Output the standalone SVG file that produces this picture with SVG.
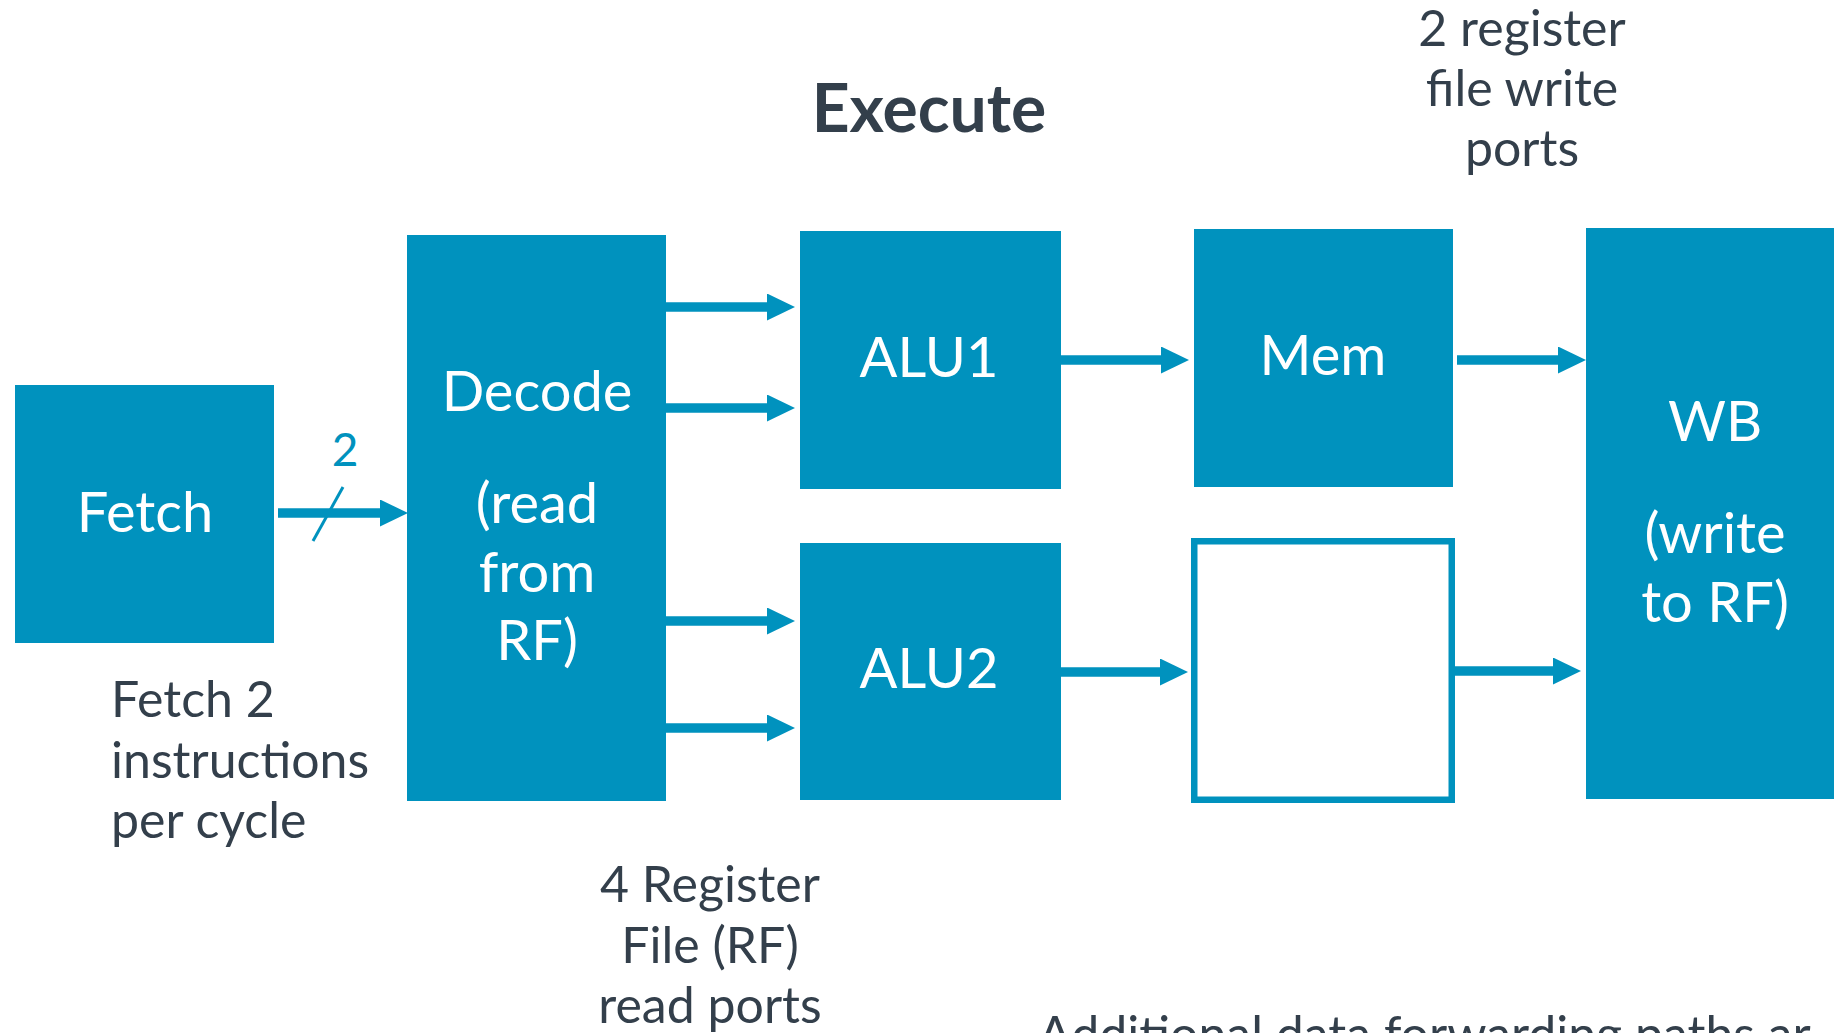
<svg xmlns="http://www.w3.org/2000/svg" width="1834" height="1033" viewBox="0 0 1834 1033">
  <defs>
    <style>
      .box { fill: #0092BE; }
      .hollow { fill: #FFFFFF; stroke: #0092BE; stroke-width: 6.5; }
      .inner { font-family: Lato, "Open Sans", "Liberation Sans", sans-serif; font-size: 56px; fill: #FFFFFF; text-anchor: middle; }
      .note { font-family: Lato, "Open Sans", "Liberation Sans", sans-serif; font-size: 50px; fill: #333F4B; }
      .title { font-family: Lato, "Open Sans", "Liberation Sans", sans-serif; font-size: 66px; font-weight: bold; fill: #333F4B; text-anchor: middle; }
      .wire { stroke: #0092BE; stroke-width: 9.5; fill: none; marker-end: url(#head); }
    </style>
    <marker id="head" markerUnits="userSpaceOnUse" markerWidth="28" markerHeight="28" refX="0" refY="13.5" orient="auto">
      <path d="M0,0 L28,13.5 L0,27 Z" fill="#0092BE"/>
    </marker>
  </defs>

  <rect width="1834" height="1033" fill="#FFFFFF"/>

  <!-- stage title -->
  <text class="title" x="929" y="132">Execute</text>

  <!-- pipeline stages -->
  <g id="fetch">
    <rect class="box" x="15" y="385" width="259" height="258"/>
    <text class="inner" x="145" y="532">Fetch</text>
  </g>
  <g id="decode">
    <rect class="box" x="407" y="235" width="259" height="566"/>
    <text class="inner" x="537" y="411">Decode</text>
    <text class="inner" x="537" y="523">(read</text>
    <text class="inner" x="537" y="592">from</text>
    <text class="inner" x="537" y="660">RF)</text>
  </g>
  <g id="alu1">
    <rect class="box" x="800" y="231" width="261" height="258"/>
    <text class="inner" x="929" y="377">ALU1</text>
  </g>
  <g id="alu2">
    <rect class="box" x="800" y="543" width="261" height="257"/>
    <text class="inner" x="929" y="688">ALU2</text>
  </g>
  <g id="mem">
    <rect class="box" x="1194" y="229" width="259" height="258"/>
    <text class="inner" x="1323" y="375">Mem</text>
  </g>
  <g id="mem-bypass">
    <rect class="hollow" x="1194.25" y="541.25" width="257.5" height="258.5"/>
  </g>
  <g id="wb">
    <rect class="box" x="1586" y="228" width="260" height="571"/>
    <text class="inner" x="1715" y="441">WB</text>
    <text class="inner" x="1715" y="553">(write</text>
    <text class="inner" x="1715" y="622">to RF)</text>
  </g>

  <!-- connectors -->
  <g id="connectors">
    <line class="wire" x1="278" y1="513" x2="380" y2="513"/>
    <line x1="313" y1="541" x2="343" y2="487" stroke="#0092BE" stroke-width="3"/>
    <line class="wire" x1="666" y1="307" x2="767" y2="307"/>
    <line class="wire" x1="666" y1="408" x2="767" y2="408"/>
    <line class="wire" x1="666" y1="621" x2="767" y2="621"/>
    <line class="wire" x1="666" y1="728" x2="767" y2="728"/>
    <line class="wire" x1="1061" y1="360" x2="1161" y2="360"/>
    <line class="wire" x1="1457" y1="360" x2="1558" y2="360"/>
    <line class="wire" x1="1061" y1="672" x2="1160" y2="672"/>
    <line class="wire" x1="1455" y1="671" x2="1553" y2="671"/>
  </g>
  <text x="345" y="466" font-family="Lato, 'Open Sans', 'Liberation Sans', sans-serif" font-size="46" fill="#0092BE" text-anchor="middle">2</text>

  <!-- annotations -->
  <g id="note-fetch">
    <text class="note" x="111" y="717">Fetch 2</text>
    <text class="note" x="111" y="778">instructions</text>
    <text class="note" x="111" y="838">per cycle</text>
  </g>
  <g id="note-read-ports">
    <text class="note" x="710" y="902" text-anchor="middle">4 Register</text>
    <text class="note" x="710" y="963" text-anchor="middle">File (RF)</text>
    <text class="note" x="710" y="1023" text-anchor="middle">read ports</text>
  </g>
  <g id="note-write-ports">
    <text class="note" x="1522" y="46" text-anchor="middle">2 register</text>
    <text class="note" x="1522" y="106" text-anchor="middle">file write</text>
    <text class="note" x="1522" y="166" text-anchor="middle">ports</text>
  </g>
  <text class="note" x="1038" y="1052" font-size="53">Additional data forwarding paths ar</text>
</svg>
